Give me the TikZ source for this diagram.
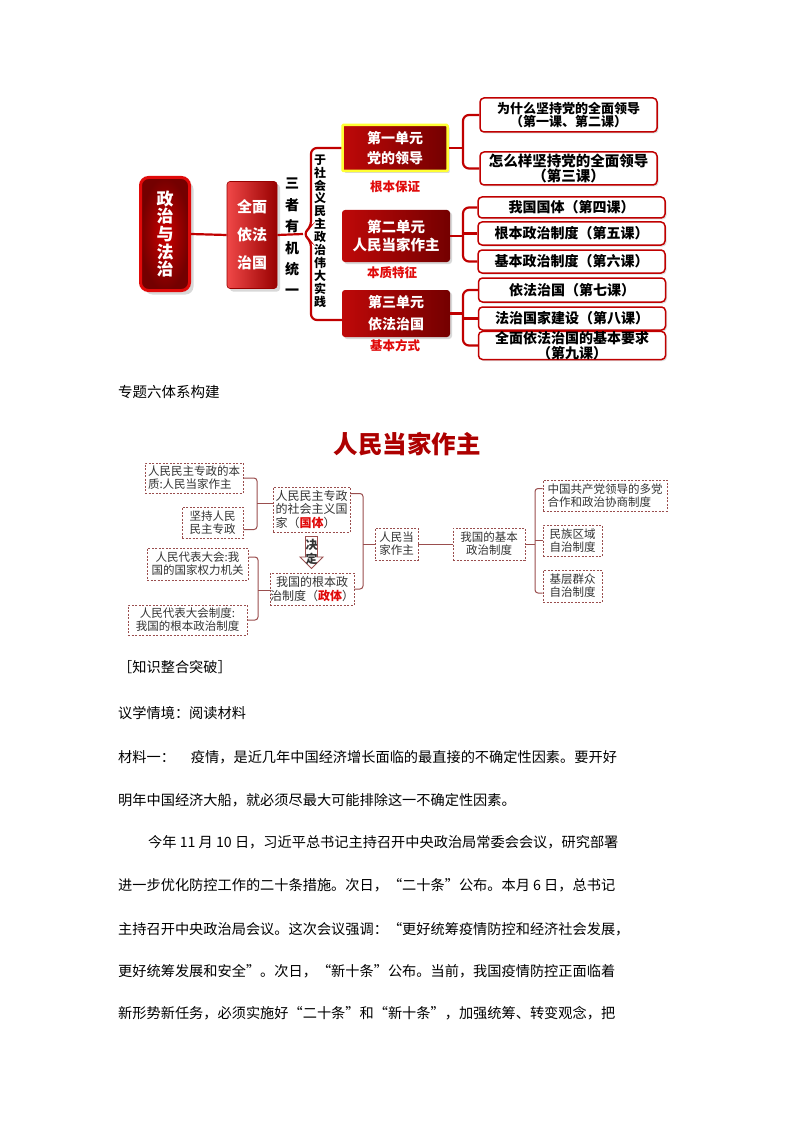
\documentclass[tikz,border=0pt]{standalone}
\usepackage{fontspec}
\setmainfont{Noto Sans CJK SC}
\usetikzlibrary{shadows}

\definecolor{shenhong}{HTML}{740000}
\definecolor{zhonghong}{HTML}{C00000}
\definecolor{xianhong}{HTML}{E00A0A}
\definecolor{qianhong}{HTML}{F04848}
\definecolor{anhong}{HTML}{980000}
\definecolor{huangbian}{HTML}{FFFF33}
\definecolor{xuxian}{HTML}{9A4E4E}
\definecolor{huizi}{HTML}{333333}

\newcommand{\zihao}[2]{\fontsize{#1}{#2}\selectfont}

\begin{document}
\begin{tikzpicture}[x=1pt, y=-1pt,
  hongxian/.style={draw=zhonghong, line width=2.2pt, rounded corners=6pt},
  danyuan/.style={rounded corners=3pt, left color=xianhong!85!black, right color=shenhong,
    text=white, font=\bfseries\zihao{14}{19}, align=center, inner sep=0pt,
    drop shadow={shadow xshift=2pt, shadow yshift=-2pt, opacity=0.3}},
  keti/.style={draw=zhonghong, line width=1.5pt, rounded corners=4pt, fill=white,
    font=\bfseries\zihao{14}{13.5}, align=center, inner sep=0pt, minimum width=187pt,
    drop shadow={shadow xshift=1.5pt, shadow yshift=-1.5pt, opacity=0.25}},
  biaoqian/.style={text=xianhong, font=\bfseries\zihao{12.5}{14}, inner sep=0pt},
  xukuang/.style={draw=xuxian, line width=0.9pt, dash pattern=on 2pt off 1.5pt,
    text=huizi, font=\zihao{11.5}{13}, inner sep=0pt},
  xilian/.style={draw=xuxian, line width=1pt, rounded corners=3pt},
  zhengwen/.style={anchor=west, font=\zihao{14.2}{16}, inner sep=0pt}
]
\useasboundingbox (0,0) rectangle (794,1123);
\fill[white] (0,0) rectangle (794,1123);

% 政治与法治
\node[draw=xianhong, line width=3pt, rounded corners=8pt, inner color=red!80!black,
  outer color=shenhong, minimum width=49pt, minimum height=113pt, text=white,
  font=\bfseries\zihao{17}{17.6}, align=center, inner sep=0pt,
  drop shadow={shadow xshift=4pt, shadow yshift=-4pt, opacity=0.3}]
  (zzfz) at (165,234) {政\\治\\与\\法\\治};
\node[draw=anhong, line width=0.6pt, rounded corners=3pt, left color=qianhong,
  right color=anhong, minimum width=50pt, minimum height=107pt, text=white,
  font=\bfseries\zihao{15}{28}, align=center, inner sep=0pt,
  drop shadow={shadow xshift=3pt, shadow yshift=-3pt, opacity=0.3}]
  (qmyf) at (252,235) {全面\\依法\\治国};
\node[font=\bfseries\zihao{14}{21.4}, align=center, inner sep=0pt]
  (szyj) at (292,237) {三\\者\\有\\机\\统\\一};
\node[font=\bfseries\zihao{12}{12.9}, align=center, inner sep=0pt]
  (shzy) at (320,231) {于\\社\\会\\义\\民\\主\\政\\治\\伟\\大\\实\\践};

% 三个单元
\node[danyuan, draw=huangbian, line width=2.5pt, rounded corners=1pt,
  minimum width=105pt, minimum height=46pt, font=\bfseries\zihao{14}{20}]
  (dy1) at (395,148) {第一单元\\党的领导};
\node[danyuan, minimum width=108pt, minimum height=52pt, font=\bfseries\zihao{14.5}{18}]
  (dy2) at (396,236) {第二单元\\人民当家作主};
\node[danyuan, minimum width=108pt, minimum height=47pt, font=\bfseries\zihao{14}{22}]
  (dy3) at (396,313.5) {第三单元\\依法治国};
\node[biaoqian] (bq1) at (395,187) {根本保证};
\node[biaoqian] (bq2) at (392,273) {本质特征};
\node[biaoqian] (bq3) at (395,346) {基本方式};

% 大括号
\coordinate (kh) at (303,234);
\coordinate (khs) at (311,227);
\coordinate (khx) at (311,241);
\draw[hongxian, rounded corners=0pt] (zzfz.east) -- (qmyf.west);
\draw[hongxian, rounded corners=0pt] (qmyf.east) -- (kh);
\draw[hongxian] (dy1.west) -| (khs) -- (kh) -- (khx) |- ([yshift=-6.5pt]dy3.west);

% 各课
\node[keti, minimum width=177pt, minimum height=34pt, font=\bfseries\zihao{13}{13}]
  (k1) at (568.5,115) {为什么坚持党的全面领导\\（第一课、第二课）};
\node[keti, minimum width=177pt, minimum height=33pt, font=\bfseries\zihao{14.5}{13}]
  (k2) at (568.5,168.5) {怎么样坚持党的全面领导\\（第三课）};
\node[keti, minimum height=21pt] (k3) at (571.5,207.5) {我国国体（第四课）};
\node[keti, minimum height=23pt] (k4) at (571.5,233.5) {根本政治制度（第五课）};
\node[keti, minimum height=23pt] (k5) at (571.5,261.5) {基本政治制度（第六课）};
\node[keti, minimum height=24pt] (k6) at (572,290) {依法治国（第七课）};
\node[keti, minimum height=23pt] (k7) at (572,318.5) {法治国家建设（第八课）};
\node[keti, minimum height=25pt, font=\bfseries\zihao{14}{11.5}]
  (k8) at (572,345.5) {全面依法治国的基本要求\\（第九课）};

\coordinate (z1) at (463,148);
\coordinate (z2) at (463,236);
\coordinate (z3) at (463,313.5);
\draw[hongxian] (dy1.east) -- (z1);
\draw[hongxian] (k1.west) -| (z1) |- (k2.west);
\draw[hongxian] (dy2.east) -- (z2);
\draw[hongxian] (k3.west) -| (z2) |- (k5.west);
\draw[hongxian] (k4.west) -- (k4.west -| z2);
\draw[hongxian] (dy3.east) -- (z3);
\draw[hongxian] (k6.west) -| (z3) |- (k8.west);
\draw[hongxian] (k7.west) -- (k7.west -| z3);

\node[zhengwen, font=\zihao{14.5}{16}] (tx) at (118,392) {专题六体系构建};

% 人民当家作主
\node[text=zhonghong!90!black, font=\bfseries\zihao{24.5}{26}, inner sep=0pt]
  (bt2) at (407,444) {人民当家作主};
\node[xukuang, minimum width=98pt, minimum height=30pt, align=left]
  (bz) at (194,478) {人民民主专政的本\\质:人民当家作主};
\node[xukuang, minimum width=61pt, minimum height=31pt, align=center]
  (jc) at (212.5,522.5) {坚持人民\\民主专政};
\node[xukuang, minimum width=101pt, minimum height=32pt, align=center]
  (rd) at (197.5,564) {人民代表大会:我\\国的国家权力机关};
\node[xukuang, minimum width=119pt, minimum height=30pt, align=center]
  (rdzd) at (187.5,620) {人民代表大会制度:\\我国的根本政治制度};
\node[xukuang, minimum width=77pt, minimum height=45pt, align=left, font=\zihao{12}{13.5}]
  (gt) at (311.5,509.5)
  {人民民主专政\\的社会主义国\\家（\textcolor{xianhong}{\bfseries 国体}）};
\node[xukuang, minimum width=80pt, minimum height=32pt, align=center, font=\zihao{12}{14}]
  (zt) at (312,589) {我国的根本政\\治制度（\textcolor{xianhong}{\bfseries 政体}）};
% 决定 空心箭头
\draw[draw=xuxian, fill=white, line width=0.9pt, line join=miter]
  (305.5,536.5) -- (317.5,536.5) -- (317.5,557) -- (323,557) -- (311.5,568.5)
  -- (300,557) -- (305.5,557) -- cycle;
\node[font=\bfseries\zihao{12}{14}, text=huizi, align=center, inner sep=0pt]
  (jd) at (311.5,552) {决\\定};
\node[xukuang, minimum width=43pt, minimum height=32pt, align=center]
  (rmdjz) at (396.5,544) {人民当\\家作主};
\node[xukuang, minimum width=72pt, minimum height=32pt, align=center]
  (jbzd) at (489,544) {我国的基本\\政治制度};
\node[xukuang, minimum width=124pt, minimum height=31pt, align=left]
  (dzhz) at (605,495.5) {中国共产党领导的多党\\合作和政治协商制度};
\node[xukuang, minimum width=59pt, minimum height=31pt, align=center]
  (mzqy) at (572.5,540.5) {民族区域\\自治制度};
\node[xukuang, minimum width=59pt, minimum height=32pt, align=center]
  (jcqz) at (572.5,586) {基层群众\\自治制度};

\coordinate (zb1) at (257,503);
\coordinate (zb2) at (258,590);
\coordinate (zb3) at (363,544);
\coordinate (zb4) at (535,544);
\draw[xilian] (bz.east) -| (zb1) |- ([yshift=-7pt]jc.east);
\draw[xilian] (zb1) -- (zb1 -| gt.west);
\draw[xilian] ([yshift=7pt]rd.east) -| (zb2) |- (rdzd.east);
\draw[xilian] (zb2) -- (zb2 -| zt.west);
\draw[xilian] ([yshift=16pt]gt.east) -| (zb3) |- (zt.east);
\draw[xilian] (zb3) -- (rmdjz.west);
\draw[xilian] (rmdjz.east) -- (jbzd.west);
\draw[xilian] (jbzd.east) -- (zb4);
\draw[xilian] ([yshift=7pt]dzhz.west) -| (zb4) |- ([yshift=-7pt]jcqz.west);
\draw[xilian] (mzqy.west) -- (mzqy.west -| zb4);

% 正文
\node[zhengwen] (zs) at (118,667) {［知识整合突破］};
\node[zhengwen] (yx) at (118,713) {议学情境：阅读材料};
\node[zhengwen] (cl1) at (118,757) {材料一：\hspace{16pt}疫情，是近几年中国经济增长面临的最直接的不确定性因素。要开好};
\node[zhengwen] (cl2) at (118,800) {明年中国经济大船，就必须尽最大可能排除这一不确定性因素。};
\node[zhengwen] (p1) at (148,842) {今年 11 月 10 日，习近平总书记主持召开中央政治局常委会会议，研究部署};
\node[zhengwen] (p2) at (118,885) {进一步优化防控工作的二十条措施。次日，“二十条”公布。本月 6 日，总书记};
\node[zhengwen] (p3) at (118,929) {主持召开中央政治局会议。这次会议强调：“更好统筹疫情防控和经济社会发展，};
\node[zhengwen] (p4) at (118,971) {更好统筹发展和安全”。次日，“新十条”公布。当前，我国疫情防控正面临着};
\node[zhengwen] (p5) at (118,1013) {新形势新任务，必须实施好“二十条”和“新十条”，加强统筹、转变观念，把};
\end{tikzpicture}
\end{document}
